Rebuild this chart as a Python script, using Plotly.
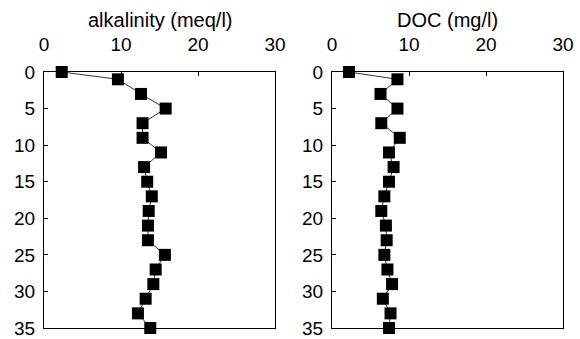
import plotly.graph_objects as go
from plotly.subplots import make_subplots

depth = [0, 1, 3, 5, 7, 9, 11, 13, 15, 17, 19, 21, 23, 25, 27, 29, 31, 33, 35]
alkalinity = [2.3, 9.6, 12.6, 15.8, 12.8, 12.8, 15.2, 13.0, 13.4, 14.0, 13.6, 13.5, 13.5,
              15.7, 14.5, 14.2, 13.2, 12.2, 13.8]
doc = [2.2, 8.5, 6.3, 8.5, 6.4, 8.8, 7.4, 8.0, 7.4, 6.8, 6.4, 7.0, 7.1, 6.8, 7.2, 7.8,
       6.6, 7.6, 7.4]
x_ticks = [0, 10, 20, 30]
y_ticks = [0, 5, 10, 15, 20, 25, 30, 35]
titles = ["alkalinity (meq/l)", "DOC (mg/l)"]

W, H = 580, 339
FONT = "Liberation Sans, Arial, sans-serif"

fig = make_subplots(rows=1, cols=2)
for i, vals in enumerate([alkalinity, doc], start=1):
    fig.add_trace(go.Scatter(
        x=vals, y=depth, mode="lines+markers",
        line=dict(color="#333333", width=1),
        marker=dict(symbol="square", size=12, color="black"),
        cliponaxis=False, showlegend=False), row=1, col=i)

domains = [[44 / W, 275 / W], [332 / W, 563 / W]]
ydom = [1 - 328 / H, 1 - 72 / H]
for i in (1, 2):
    sfx = "" if i == 1 else str(i)
    fig.layout["xaxis" + sfx].update(
        domain=domains[i - 1], range=[0, 30], side="top", tickvals=x_ticks,
        ticks="inside", ticklen=4, tickcolor="black", showgrid=False, zeroline=False,
        showline=True, linecolor="black", linewidth=1, mirror=True,
        automargin=False, ticklabelstandoff=12,
        tickfont=dict(family=FONT, size=19, color="black"))
    fig.layout["yaxis" + sfx].update(
        domain=ydom, range=[35, 0], tickvals=y_ticks,
        ticks="inside", ticklen=4, tickcolor="black", showgrid=False, zeroline=False,
        showline=True, linecolor="black", linewidth=1, mirror=True,
        automargin=False, ticklabelstandoff=4,
        tickfont=dict(family=FONT, size=19, color="black"))
    fig.add_annotation(
        text=titles[i - 1], xref="paper", yref="paper",
        x=sum(domains[i - 1]) / 2, y=1 - 20 / H, xanchor="center", yanchor="middle",
        showarrow=False, font=dict(family=FONT, size=20, color="black"))

fig.update_layout(
    width=W, height=H, margin=dict(l=0, r=0, t=0, b=0),
    paper_bgcolor="white", plot_bgcolor="white")

fig.write_html("out.html")
